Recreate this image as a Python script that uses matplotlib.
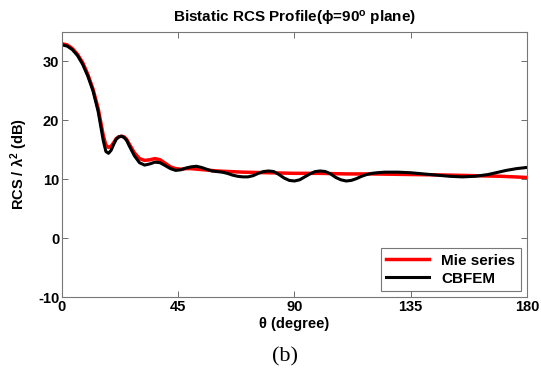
import matplotlib
matplotlib.use("Agg")
import matplotlib.pyplot as plt
import numpy as np

plt.rcParams['font.family'] = ['Liberation Sans', 'DejaVu Sans']
plt.rcParams['mathtext.fontset'] = 'custom'
plt.rcParams['mathtext.rm'] = 'Liberation Sans'
plt.rcParams['mathtext.bf'] = 'Liberation Sans:bold'
plt.rcParams['mathtext.it'] = 'Liberation Sans:italic'
plt.rcParams['axes.unicode_minus'] = False

# CBFEM (black)
theta_cb = [0, 2, 4, 6, 8, 10, 12, 14, 15, 16, 17, 18, 19, 20, 21, 22, 23, 24, 25, 26,
            28, 30, 32, 34, 36, 38, 40, 42, 44, 46, 48, 50, 52, 54, 56, 58, 60, 62, 64,
            66, 68, 70, 72, 74, 76, 78, 80, 82, 84, 86, 88, 90, 92, 94, 96, 98, 100,
            102, 104, 106, 108, 110, 112, 114, 116, 118, 120, 122, 125, 130, 135, 140,
            145, 150, 155, 160, 165, 168, 172, 176, 180]
rcs_cb = [32.8, 32.6, 32.0, 31.0, 29.5, 27.5, 25.0, 21.5, 19.0, 16.5, 14.7, 14.4, 14.9,
          15.9, 16.8, 17.2, 17.3, 17.1, 16.6, 15.7, 14.0, 12.8, 12.4, 12.6, 12.9, 12.8,
          12.3, 11.8, 11.5, 11.6, 11.9, 12.1, 12.2, 12.0, 11.7, 11.4, 11.3, 11.2, 11.0,
          10.7, 10.5, 10.4, 10.4, 10.6, 11.0, 11.3, 11.4, 11.3, 10.8, 10.2, 9.8, 9.7,
          9.9, 10.4, 10.9, 11.3, 11.4, 11.3, 10.9, 10.3, 9.9, 9.7, 9.8, 10.1, 10.5,
          10.8, 11.0, 11.1, 11.2, 11.2, 11.1, 10.9, 10.7, 10.5, 10.4, 10.5, 10.8, 11.1,
          11.5, 11.8, 12.0]

# Mie series (red)
theta_mie = [0, 2, 4, 6, 8, 10, 12, 14, 15, 16, 17, 18, 19, 20, 21, 22, 23, 24, 25, 26,
             28, 30, 32, 34, 36, 38, 40, 42, 44, 46, 48, 50, 55, 60, 65, 70, 80, 90, 100,
             110, 120, 135, 150, 160, 170, 180]
rcs_mie = [33.0, 32.8, 32.2, 31.2, 29.8, 27.8, 25.3, 22.0, 19.7, 17.4, 15.8, 15.4, 15.6,
           16.2, 16.9, 17.2, 17.3, 17.2, 16.8, 16.0, 14.5, 13.5, 13.2, 13.3, 13.5, 13.3,
           12.7, 12.1, 11.8, 11.7, 11.8, 11.8, 11.6, 11.4, 11.3, 11.2, 11.1, 11.0, 11.0,
           10.9, 10.9, 10.8, 10.7, 10.6, 10.5, 10.3]

fig = plt.figure(figsize=(5.41, 3.76), dpi=100)
ax = fig.add_axes([0.1146, 0.21, 0.8594, 0.705])

ax.plot(theta_mie, rcs_mie, color='red', lw=2.5, label='Mie series')
ax.plot(theta_cb, rcs_cb, color='black', lw=2.2, label='CBFEM')

ax.set_xlim(0, 180)
ax.set_ylim(-10, 35)
ax.set_xticks([0, 45, 90, 135, 180])
ax.set_yticks([-10, 0, 10, 20, 30])
ax.tick_params(direction='in', top=True, right=True, length=4, width=0.6,
               color='#555555', labelsize=10.5, pad=2)
for lab in ax.get_xticklabels() + ax.get_yticklabels():
    lab.set_fontweight('bold')
for s in ax.spines.values():
    s.set_color('#777777')
    s.set_linewidth(0.8)

ax.set_title('Bistatic RCS Profile(ϕ=90$^\\mathbf{o}$ plane)', fontsize=11,
             fontweight='bold', pad=7)
ax.set_xlabel('θ (degree)', fontsize=10.5, fontweight='bold', labelpad=2)
ax.set_ylabel('RCS / λ$^\\mathbf{2}$ (dB)', fontsize=10.5, fontweight='bold', labelpad=6)

leg = ax.legend(loc='lower right', fontsize=11, frameon=True, fancybox=False,
                borderaxespad=0.4, handlelength=2.8, labelspacing=0.25,
                borderpad=0.35)
leg.get_frame().set_edgecolor('#555555')
leg.get_frame().set_linewidth(0.8)
for t in leg.get_texts():
    t.set_fontweight('bold')

fig.text(0.527, 0.05, '(b)', ha='center', va='center', fontsize=16,
         family='Liberation Serif')

fig.savefig('out.png', dpi=100)
